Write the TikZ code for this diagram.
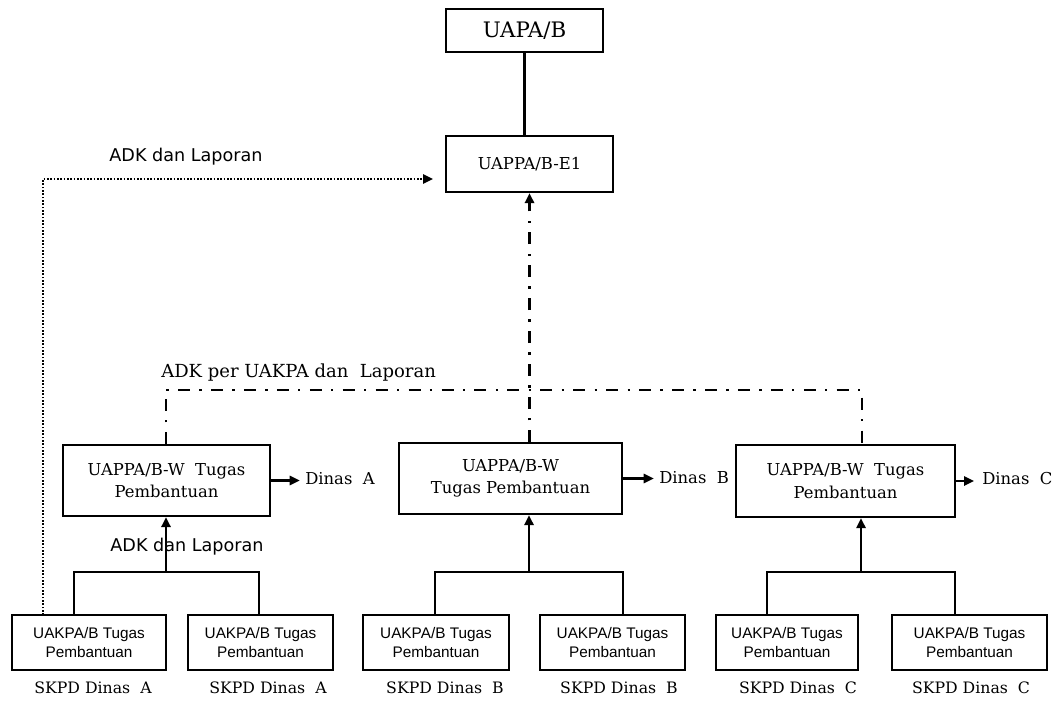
\documentclass[tikz,border=0pt]{standalone}
\usepackage{fontspec}
\setmainfont{DejaVu Serif}
\setsansfont{DejaVu Sans}
\newfontfamily\boxsans{Liberation Sans}
\usetikzlibrary{arrows.meta}

\begin{document}
\begin{tikzpicture}[x=0.75pt,y=-0.75pt,
  box/.style={draw, line width=1.8pt, inner sep=0pt, align=center},
  wh/.style 2 args={minimum width=#1*0.75pt, minimum height=#2*0.75pt},
  conn/.style={line width=1.6pt},
  tip/.style={-{Triangle[length=7.5pt,width=7pt]}},
  dotline/.style={line width=1.7pt, dash pattern=on 1.2pt off 1.3pt},
  dashdot/.style={line width=1.7pt, dash pattern=on 9pt off 7pt on 1.7pt off 7pt},
  serifA/.style={font=\fontsize{16}{19}\selectfont},
  serifB/.style={font=\fontsize{12.3}{17}\selectfont},
  serifC/.style={font=\fontsize{11.8}{14}\selectfont},
  sansA/.style={font=\sffamily\fontsize{13.2}{16}\selectfont},
  sansB/.style={font=\boxsans\fontsize{11.5}{14.5}\selectfont},
  lbl/.style={inner sep=0pt}
]
\useasboundingbox (0,0) rectangle (1055,702);

% top of the hierarchy
\node[box, wh={157}{43}, serifA] (uapa) at (524.5,30.5) {UAPA/B};
\node[box, wh={167}{56}, serifB] (e1) at (529.5,164) {UAPPA/B-E1};

% regional units
\node[box, wh={207}{71}, serifB] (wA) at (166.5,480.5) {UAPPA/B-W\ \ Tugas\\Pembantuan};
\node[box, wh={223}{71}, serifB] (wB) at (510.5,478.5) {UAPPA/B-W\\Tugas Pembantuan};
\node[box, wh={219}{72}, serifB] (wC) at (845.5,481) {UAPPA/B-W\ \ Tugas\\Pembantuan};

% Dinas labels
\node[lbl, serifB, anchor=west] (dinA) at (305,479) {Dinas\ \ A};
\node[lbl, serifB, anchor=west] (dinB) at (659,478) {Dinas\ \ B};
\node[lbl, serifB, anchor=west] (dinC) at (982,479) {Dinas\ \ C};

% working units
\node[box, wh={154}{55}, sansB] (b1) at (89,642.5)    {UAKPA/B\ Tugas\\Pembantuan};
\node[box, wh={145}{55}, sansB] (b2) at (260.5,642.5) {UAKPA/B\ Tugas\\Pembantuan};
\node[box, wh={146}{55}, sansB] (b3) at (436,642.5)   {UAKPA/B\ Tugas\\Pembantuan};
\node[box, wh={145}{55}, sansB] (b4) at (612.5,642.5) {UAKPA/B\ Tugas\\Pembantuan};
\node[box, wh={142}{55}, sansB] (b5) at (787,642.5)   {UAKPA/B\ Tugas\\Pembantuan};
\node[box, wh={155}{55}, sansB] (b6) at (969.5,642.5) {UAKPA/B\ Tugas\\Pembantuan};

% SKPD captions
\node[lbl, serifC] (s1) at (93,688)  {SKPD Dinas\ \ A};
\node[lbl, serifC] (s2) at (268,688) {SKPD Dinas\ \ A};
\node[lbl, serifC] (s3) at (445,688) {SKPD Dinas\ \ B};
\node[lbl, serifC] (s4) at (619,688) {SKPD Dinas\ \ B};
\node[lbl, serifC] (s5) at (798,688) {SKPD Dinas\ \ C};
\node[lbl, serifC] (s6) at (971,688) {SKPD Dinas\ \ C};

% flow labels
\node[lbl, sansA] (adkTop) at (186,157) {ADK dan Laporan};
\node[lbl, sansA] (adkLow) at (187,547) {ADK dan Laporan};
\node[lbl, font=\fontsize{13.5}{16}\selectfont, anchor=west] (adkPer) at (161,373) {ADK per UAKPA dan\ \ Laporan};

% junction points
\coordinate (jA) at (166,572);
\coordinate (jB) at (529,572);
\coordinate (jC) at (861,572);
\coordinate (tA1) at (74,615);  \coordinate (tA2) at (259,615);
\coordinate (tB1) at (435,615); \coordinate (tB2) at (623,615);
\coordinate (tC1) at (767,615); \coordinate (tC2) at (955,615);
\coordinate (hA) at (166,390);
\coordinate (hC) at (862,390);
\coordinate (dStart) at (43,615);
\coordinate (dCorner) at (43,179);
\coordinate (dEnd) at (433,179);

% solid connectors
\draw[conn] (uapa.south) -- (uapa.south |- e1.north);
\draw[conn] (tA1) |- (jA) -| (tA2);
\draw[conn, tip] (jA) -- (jA |- wA.south);
\draw[conn] (tB1) |- (jB) -| (tB2);
\draw[conn, tip] (jB) -- (jB |- wB.south);
\draw[conn] (tC1) |- (jC) -| (tC2);
\draw[conn, tip] (jC) -- (jC |- wC.south);
\draw[conn, tip] (wA.east) -- ([xshift=-4pt]wA.east -| dinA.west);
\draw[conn, tip] (wB.east) -- ([xshift=-4pt]wB.east -| dinB.west);
\draw[conn, tip] (wC.east) -- ([xshift=-6pt]wC.east -| dinC.west);

% dotted report line
\draw[dotline] (dStart) -- (dCorner) -- ([xshift=-6pt]dEnd);
\draw[conn, tip] ([xshift=-7pt]dEnd) -- (dEnd);

% dash-dot report lines
\draw[dashdot] (hA |- wA.north) -- (hA) -- (hC) -- (hC |- wC.north);
\draw[dashdot] (e1.south |- wB.north) -- ([yshift=-7pt]e1.south);
\draw[conn, tip] ([yshift=-7pt]e1.south) -- (e1.south);

\end{tikzpicture}
\end{document}
